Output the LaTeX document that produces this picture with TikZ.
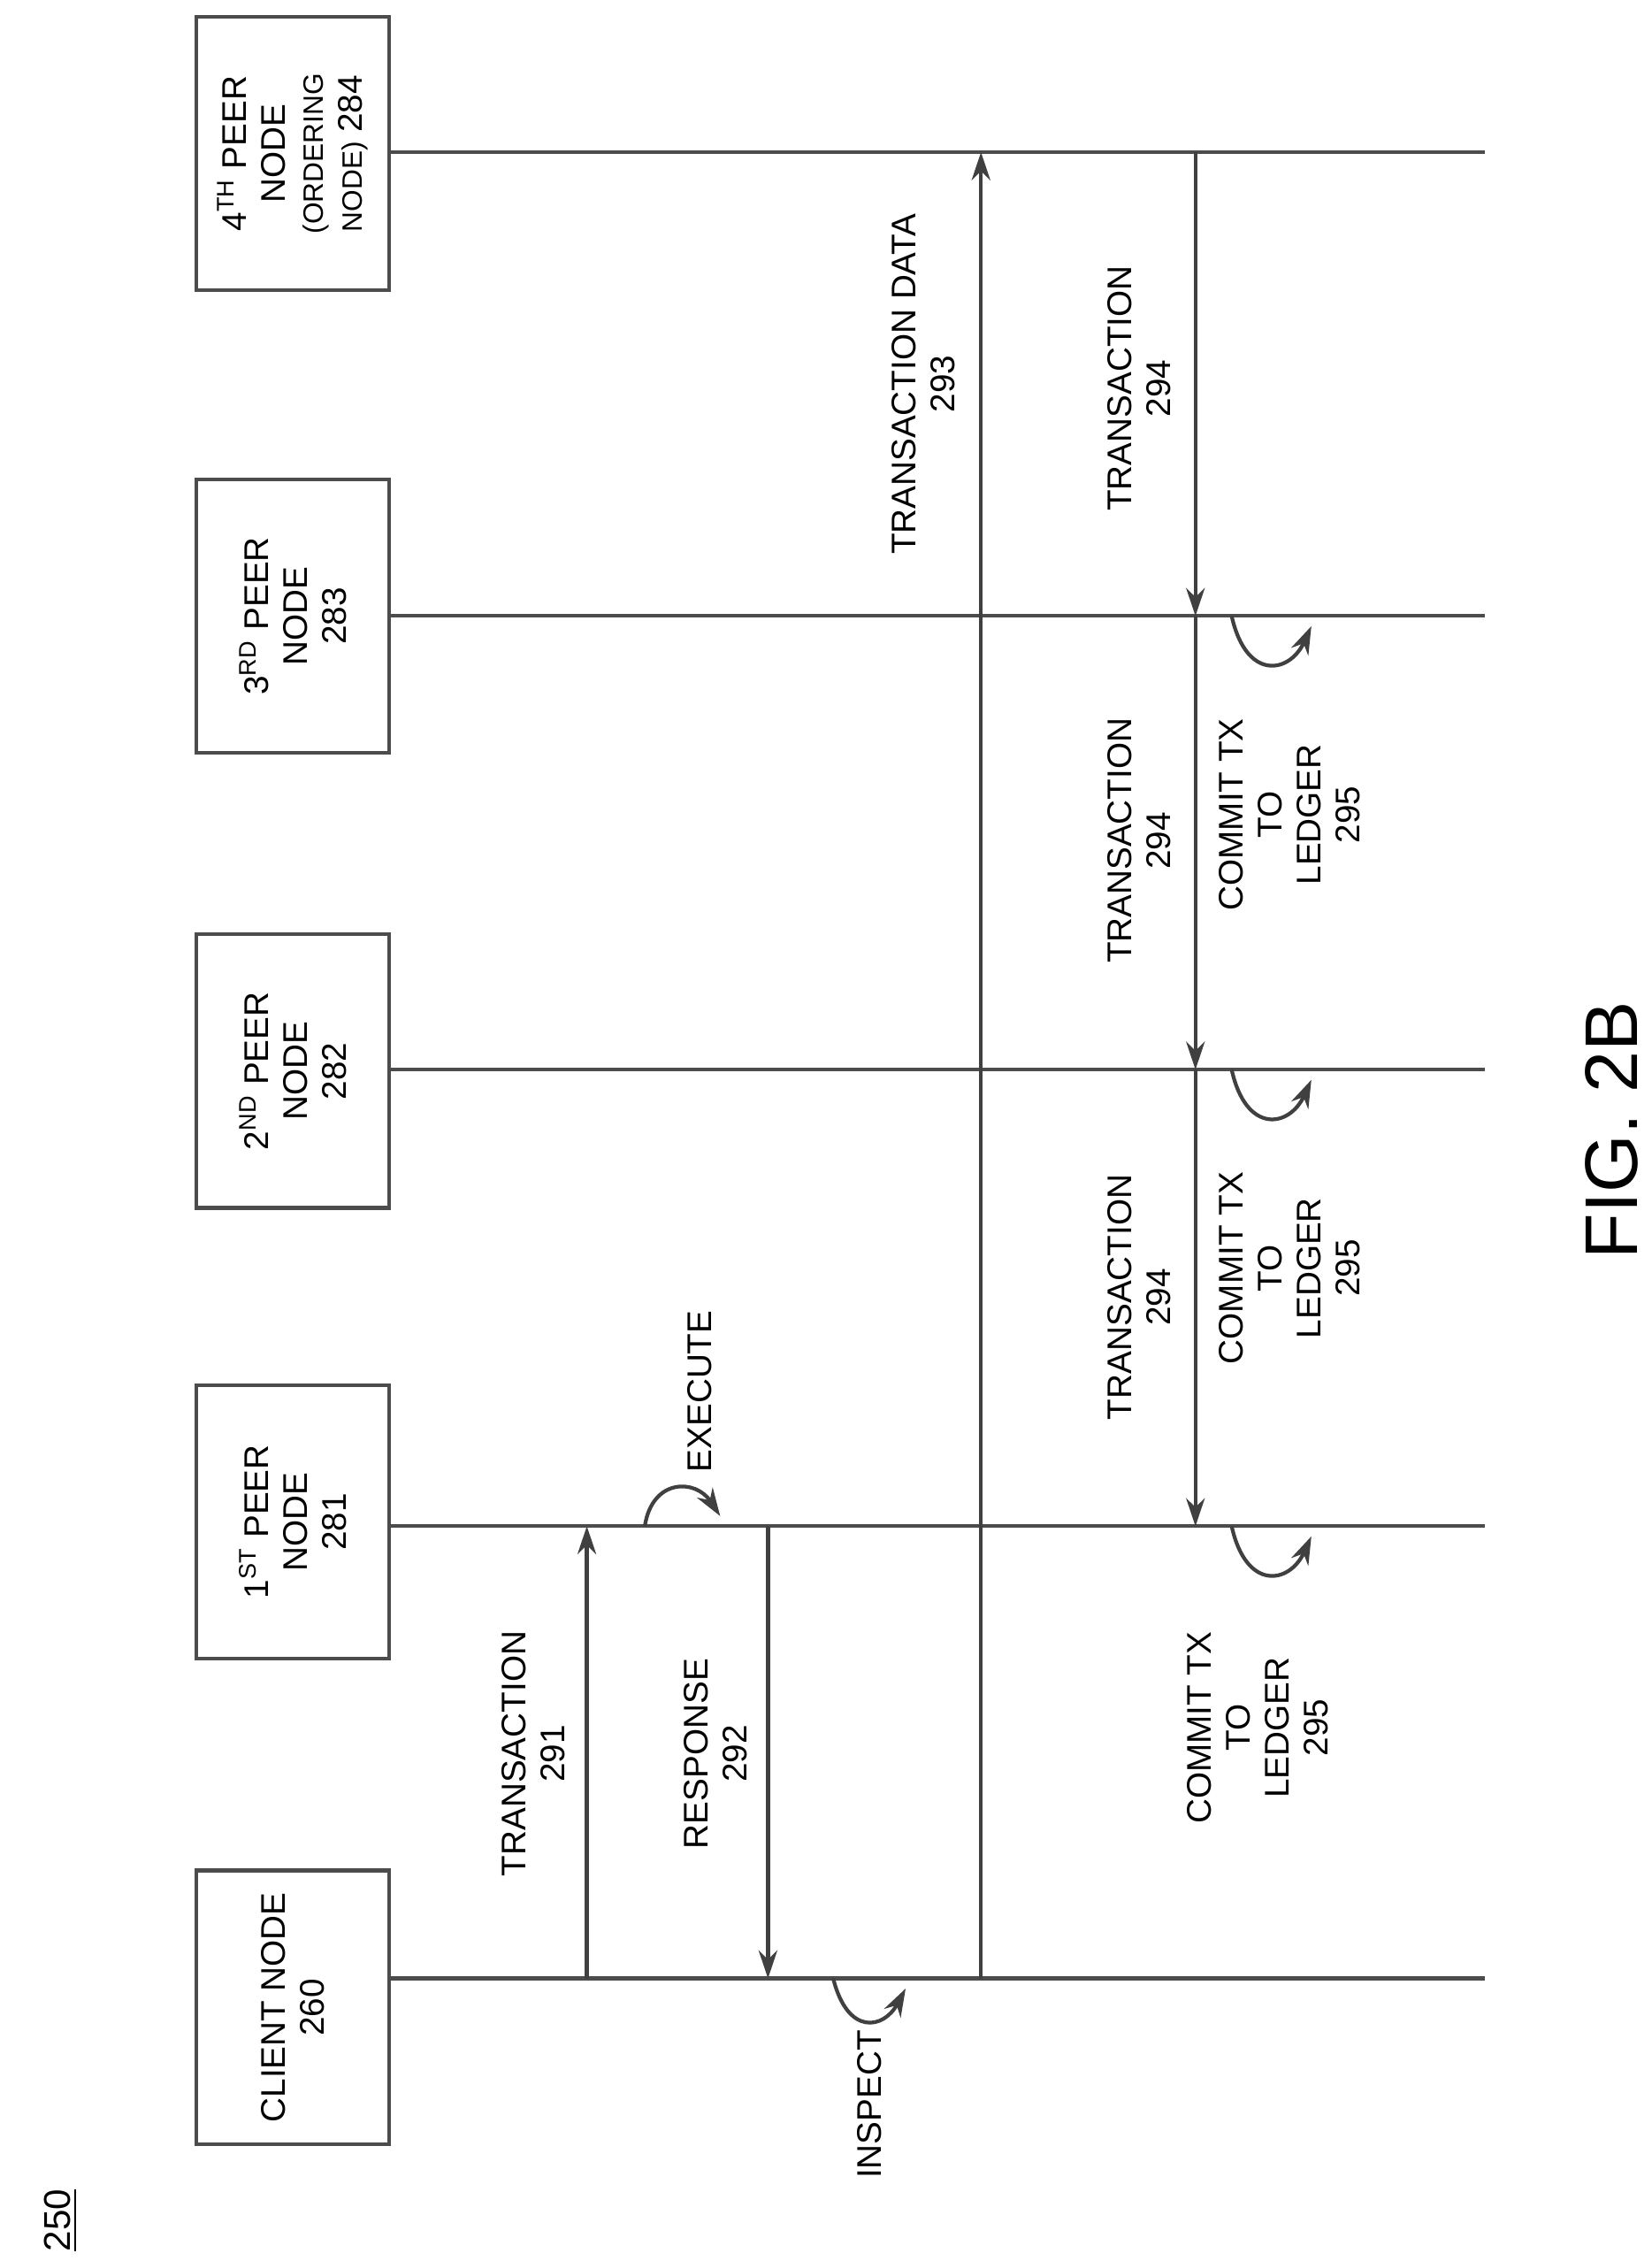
\documentclass[tikz,border=0pt]{standalone}
\usepackage{fontspec}
\setmainfont{Liberation Sans}
\usetikzlibrary{arrows.meta}
\tikzset{
    box/.style={draw=black!70,line width=1.2pt,rotate=90,minimum width=88pt,minimum height=62pt,align=center,inner sep=1pt},
    life/.style={draw=black!70,line width=1.2pt},
    msg/.style={draw=black!75,line width=1.2pt,-{Stealth[length=9pt,width=6pt]}},
    lbl/.style={rotate=90,align=center,inner sep=0pt,font=\fontsize{11}{12.5}\selectfont},
}
\begin{document}
\begin{tikzpicture}[x=0.16377mm,y=-0.16377mm,font=\fontsize{11}{12.5}\selectfont]
\useasboundingbox (0,0) rectangle (1140,1560);
% participants
\node[box] (client) at (202,1385) {CLIENT NODE\\260};
\node[box] (p1) at (202,1050) {1\textsuperscript{ST} PEER\\NODE\\281};
\node[box] (p2) at (202,739) {2\textsuperscript{ND} PEER\\NODE\\282};
\node[box] (p3) at (202,425) {3\textsuperscript{RD} PEER\\NODE\\283};
\node[box] (p4) at (202,106) {4\textsuperscript{TH} PEER\\NODE\\{\fontsize{9}{11}\selectfont(ORDERING}\\{\fontsize{9}{11}\selectfont NODE)} 284};
% lifelines
\foreach \n/\y in {client/1365,p1/1053,p2/738,p3/425,p4/105}{
    \coordinate (\n-e) at (1025,\y);
    \draw[life] (\n.south |- \n-e) -- (\n-e);
}
% messages
\coordinate (t291a) at (405,1365); \coordinate (t291b) at (405,1053);
\coordinate (r292a) at (530,1053); \coordinate (r292b) at (530,1365);
\coordinate (d293a) at (677,1365); \coordinate (d293b) at (677,105);
\coordinate (t4) at (825,105); \coordinate (t3) at (825,425);
\coordinate (t2) at (825,738); \coordinate (t1) at (825,1053);
\draw[msg] (t291a) -- (t291b);
\draw[msg] (r292a) -- (r292b);
\draw[msg] (d293a) -- (d293b);
\draw[msg] (t4) -- (t3);
\draw[msg] (t3) -- (t2);
\draw[msg] (t2) -- (t1);
% self loops
\draw[msg] (445,1053) .. controls (450,1020) and (480,1020) .. (497,1046);
\draw[msg] (575,1365) .. controls (585,1405) and (610,1400) .. (625,1372);
\foreach \y in {425,738,1053}{
    \draw[msg] (850,\y) .. controls (860,\y+45) and (890,\y+40) .. (905,\y+7);
}
% labels
\node[lbl] (l291) at (368,1210) {TRANSACTION\\291};
\node[lbl] (l292) at (494,1210) {RESPONSE\\292};
\node[lbl] (lex) at (483,960) {EXECUTE};
\node[lbl] (lin) at (600,1452) {INSPECT};
\node[lbl] (l293) at (637,265) {TRANSACTION DATA\\293};
\node[lbl] (l294a) at (786,268) {TRANSACTION\\294};
\node[lbl] (l294b) at (786,580) {TRANSACTION\\294};
\node[lbl] (l294c) at (786,895) {TRANSACTION\\294};
\node[lbl] (c3) at (890,562) {COMMIT TX\\TO\\LEDGER\\295};
\node[lbl] (c2) at (890,875) {COMMIT TX\\TO\\LEDGER\\295};
\node[lbl] (c1) at (868,1192) {COMMIT TX\\TO\\LEDGER\\295};
\node[rotate=90,font=\fontsize{24}{26}\selectfont] (fig) at (1112,780) {FIG. 2B};
\node[rotate=90,font=\fontsize{12}{14}\selectfont] (num) at (42,1532) {\underline{250}};
\end{tikzpicture}
\end{document}
